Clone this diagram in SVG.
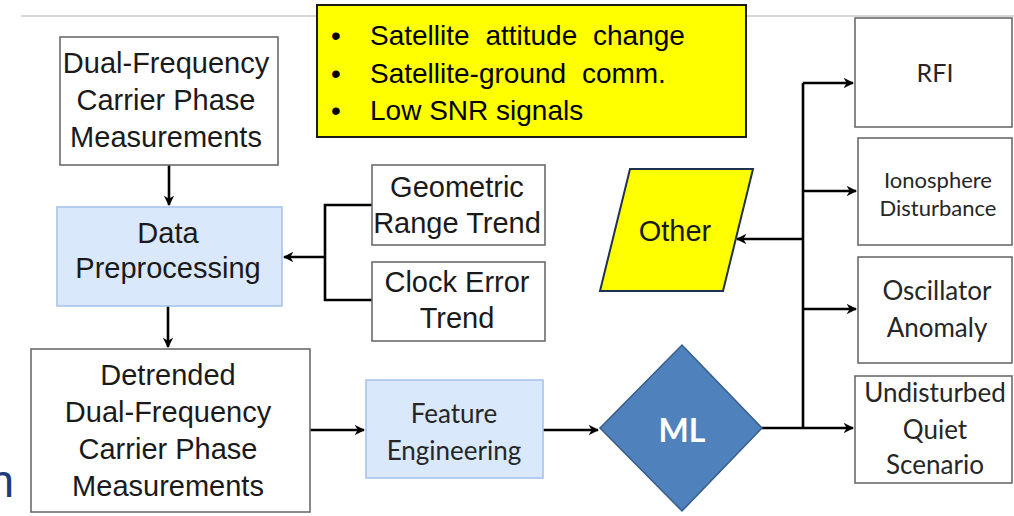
<svg xmlns="http://www.w3.org/2000/svg" width="1014" height="516" viewBox="0 0 1014 516">
<defs>
<marker id="ah" viewBox="0 0 10 10" refX="9" refY="5" markerWidth="4" markerHeight="4" orient="auto" markerUnits="strokeWidth">
<path d="M0,0 L10,5 L0,10 L3,5 Z" fill="#000"/>
</marker>
<style>
.box{fill:#fff;stroke:#6b6b6b;stroke-width:1.6}
.blue{fill:#dae8fc;stroke:#a9c4eb;stroke-width:1.6}
.yel{fill:#ffff00;stroke:#1a1a1a;stroke-width:2}
.t{font-family:"Liberation Sans",Arial,sans-serif;font-size:29px;fill:#1a1a1a;text-anchor:middle}
.c{font-family:Lato,"Open Sans",sans-serif;font-size:26px;fill:#262626;text-anchor:middle}
.y{font-family:"Liberation Sans",Arial,sans-serif;font-size:28px;fill:#000}
.ws{word-spacing:8px}
.con{fill:none;stroke:#000;stroke-width:2.6}
</style>
</defs>
<rect width="1014" height="516" fill="#fff"/>
<line x1="21" y1="16" x2="1014" y2="16" stroke="#c8c8c8" stroke-width="1.5"/>
<text x="14" y="497" font-family="Liberation Sans,Arial,sans-serif" font-size="46" fill="#1f3a7a" text-anchor="end">n</text>

<g id="connectors">
<path class="con" d="M169,165 V205" marker-end="url(#ah)"/>
<path class="con" d="M168,306 V347" marker-end="url(#ah)"/>
<path class="con" d="M372,205 H325 V300 H372"/>
<path class="con" d="M325,257 H284" marker-end="url(#ah)"/>
<path class="con" d="M310,430 H364" marker-end="url(#ah)"/>
<path class="con" d="M543,430 H598" marker-end="url(#ah)"/>
<path class="con" d="M762,428 H853" marker-end="url(#ah)"/>
<path class="con" d="M803,428 V83"/>
<path class="con" d="M803,83 H853" marker-end="url(#ah)"/>
<path class="con" d="M803,191 H856" marker-end="url(#ah)"/>
<path class="con" d="M803,309 H856" marker-end="url(#ah)"/>
<path class="con" d="M803,239 H737" marker-end="url(#ah)"/>
</g>

<g id="dual-freq">
<rect class="box" x="60" y="37" width="218" height="128"/>
<text class="t" x="166" y="73">Dual-Frequency</text>
<text class="t" x="166" y="110">Carrier Phase</text>
<text class="t" x="166" y="147">Measurements</text>
</g>

<g id="data-preprocessing">
<rect class="blue" x="57" y="207" width="225" height="99"/>
<text class="t" x="168" y="243">Data</text>
<text class="t" x="168" y="278">Preprocessing</text>
</g>

<g id="detrended">
<rect class="box" x="31" y="349" width="279" height="163"/>
<text class="t" x="168" y="385">Detrended</text>
<text class="t" x="168" y="422">Dual-Frequency</text>
<text class="t" x="168" y="459">Carrier Phase</text>
<text class="t" x="168" y="496">Measurements</text>
</g>

<g id="geometric">
<rect class="box" x="372" y="165" width="173" height="80"/>
<text class="t" x="457" y="197">Geometric</text>
<text class="t" x="457" y="233">Range Trend</text>
</g>

<g id="clock">
<rect class="box" x="372" y="262" width="173" height="79"/>
<text class="t" x="457" y="292">Clock Error</text>
<text class="t" x="457" y="328">Trend</text>
</g>

<g id="events">
<rect class="yel" x="317" y="5" width="429" height="132"/>
<text class="y" x="331" y="45">•</text>
<text class="y" x="331" y="83">•</text>
<text class="y" x="331" y="120">•</text>
<text class="y ws" x="370" y="45">Satellite attitude change</text>
<text class="y ws" x="370" y="83">Satellite-ground comm.</text>
<text class="y" x="370" y="120">Low SNR signals</text>
</g>

<g id="feature-engineering">
<rect class="blue" x="366" y="380" width="177" height="98"/>
<text class="c" x="454" y="423">Feature</text>
<text class="c" x="454" y="460">Engineering</text>
</g>

<g id="ml">
<polygon points="600,428 682,345 762,428 682,511" fill="#4f81bd" stroke="#385d8a" stroke-width="1.5"/>
<text x="682" y="442" font-family="Lato,'Open Sans',sans-serif" font-size="32" font-weight="bold" fill="#fff" text-anchor="middle">ML</text>
</g>

<g id="other">
<polygon points="630,169 753,169 723,291 600,291" fill="#ffff00" stroke="#1f3050" stroke-width="2"/>
<text class="t" x="675" y="241" fill="#000">Other</text>
</g>

<g id="rfi">
<rect class="box" x="855" y="18" width="157" height="109"/>
<text class="c" x="935" y="82" style="font-size:25px">RFI</text>
</g>

<g id="ionosphere">
<rect class="box" x="858" y="138" width="154" height="107"/>
<text class="c" x="938" y="188" style="font-size:22px">Ionosphere</text>
<text class="c" x="938" y="216" style="font-size:22px">Disturbance</text>
</g>

<g id="oscillator">
<rect class="box" x="858" y="257" width="154" height="106"/>
<text class="c" x="937" y="300">Oscillator</text>
<text class="c" x="937" y="337">Anomaly</text>
</g>

<g id="undisturbed">
<rect class="box" x="855" y="376" width="157" height="107"/>
<text class="c" x="935" y="402">Undisturbed</text>
<text class="c" x="935" y="439">Quiet</text>
<text class="c" x="935" y="474">Scenario</text>
</g>
</svg>
